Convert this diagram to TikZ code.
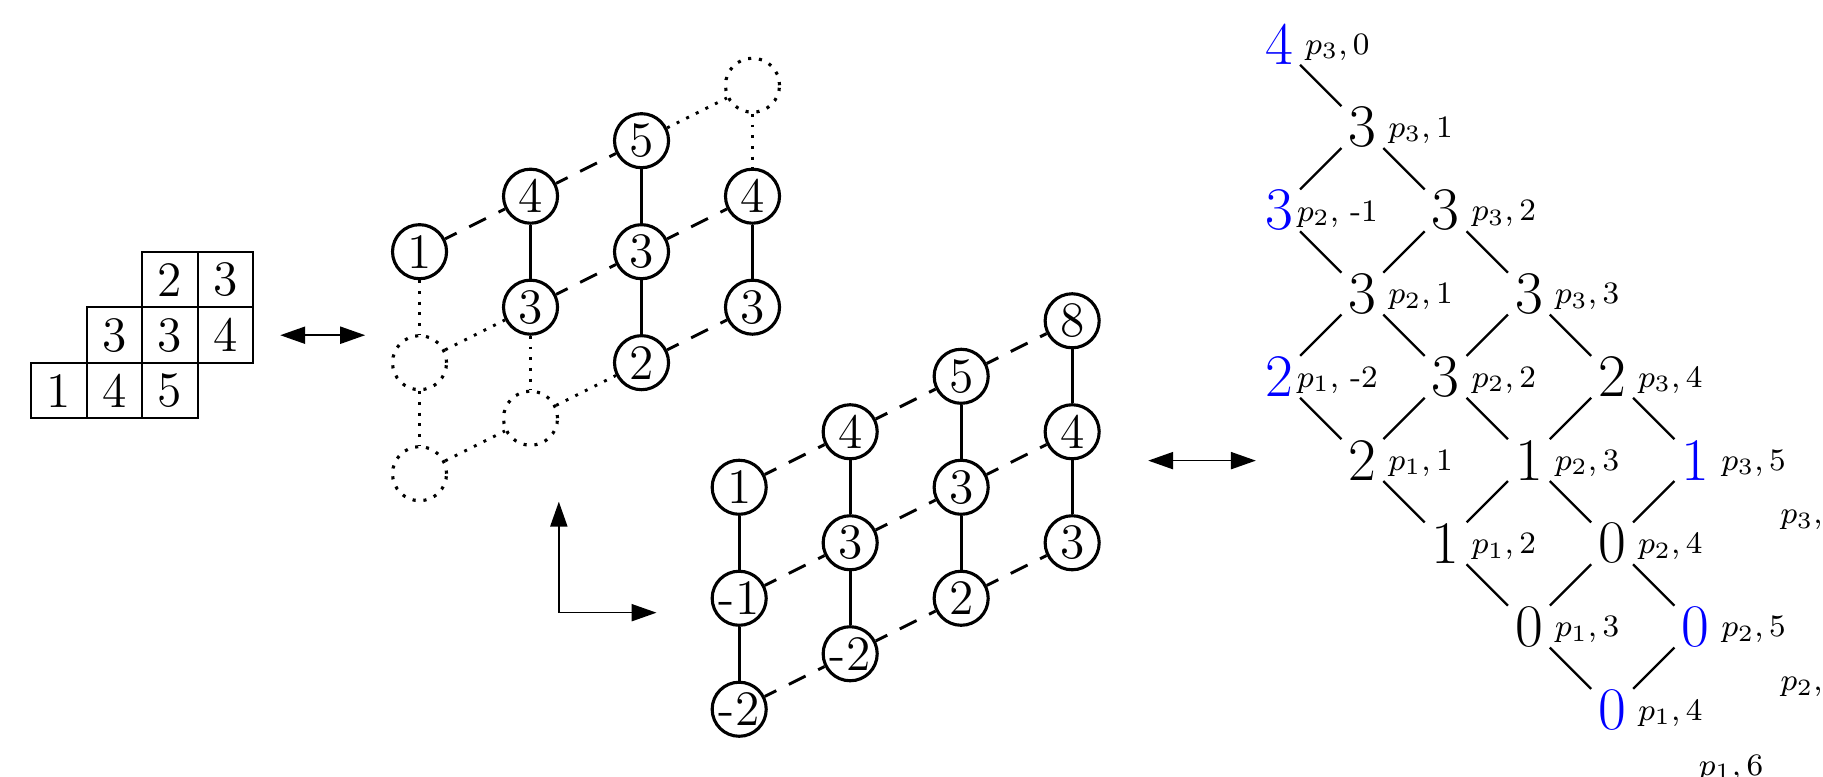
\documentclass[tikz,border=0pt]{standalone}
\usetikzlibrary{arrows.meta}
\begin{document}
\begin{tikzpicture}[x=0.5cm,y=-0.5cm,
  cell/.style={draw, line width=0.5pt, minimum size=0.5cm, inner sep=0pt, font=\fontsize{12.7}{15}\selectfont},
  lat/.style={circle, draw, line width=0.8pt, minimum size=0.487cm, inner sep=0pt, font=\fontsize{12.7}{15}\selectfont},
  latdot/.style={lat, dotted},
  sol/.style={line width=0.75pt},
  dsh/.style={line width=0.75pt, dash pattern=on 4.8pt off 3.6pt, dash phase=1.5pt},
  dtt/.style={line width=0.75pt, dotted},
  dig/.style={circle, minimum size=0.52cm, inner sep=0pt, font=\fontsize{15.5}{18}\selectfont},
  bdig/.style={dig, text=blue},
  lab/.style={inner sep=0pt, font=\fontsize{8}{9.6}\selectfont},
  dl/.style={line width=0.6pt},
  tipped/.style={line width=0.4pt, {Triangle[length=6.4pt,width=4.4pt]}-{Triangle[length=6.4pt,width=4.4pt]}}
]
\useasboundingbox (0,0) rectangle (32.85,14);
\clip (0,0) rectangle (32.85,14);

% tableau
\node[cell] (t02) at (3.06,5.04) {2};
\node[cell] (t03) at (4.06,5.04) {3};
\node[cell] (t11) at (2.06,6.04) {3};
\node[cell] (t12) at (3.06,6.04) {3};
\node[cell] (t13) at (4.06,6.04) {4};
\node[cell] (t20) at (1.06,7.04) {1};
\node[cell] (t21) at (2.06,7.04) {4};
\node[cell] (t22) at (3.06,7.04) {5};

\coordinate (a1l) at (5.05,6.04);
\coordinate (a1r) at (6.58,6.04);
\draw[tipped] (a1l) -- (a1r);

% upper lattice, origin (7.56,4.535)
\node[lat]    (u00) at (7.56,4.535) {1};
\node[lat]    (u10) at (9.56,3.535) {4};
\node[lat]    (u20) at (11.56,2.535) {5};
\node[latdot] (u30) at (13.56,1.535) {};
\node[latdot] (u01) at (7.56,6.535) {};
\node[lat]    (u11) at (9.56,5.535) {3};
\node[lat]    (u21) at (11.56,4.535) {3};
\node[lat]    (u31) at (13.56,3.535) {4};
\node[latdot] (u02) at (7.56,8.535) {};
\node[latdot] (u12) at (9.56,7.535) {};
\node[lat]    (u22) at (11.56,6.535) {2};
\node[lat]    (u32) at (13.56,5.535) {3};

\draw[dsh] (u00) -- (u10);
\draw[dsh] (u10) -- (u20);
\draw[dtt] (u20) -- (u30);
\draw[dtt] (u01) -- (u11);
\draw[dsh] (u11) -- (u21);
\draw[dsh] (u21) -- (u31);
\draw[dtt] (u02) -- (u12);
\draw[dtt] (u12) -- (u22);
\draw[dsh] (u22) -- (u32);
\draw[dtt] (u00) -- (u01);
\draw[dtt] (u01) -- (u02);
\draw[sol] (u10) -- (u11);
\draw[dtt] (u11) -- (u12);
\draw[sol] (u20) -- (u21);
\draw[sol] (u21) -- (u22);
\draw[dtt] (u30) -- (u31);
\draw[sol] (u31) -- (u32);

% axes
\coordinate (axU) at (10.07,9.04);
\coordinate (ax0) at (10.07,11.04);
\coordinate (axR) at (11.83,11.04);
\draw[tipped] (axU) -- (ax0) -- (axR);

% lower lattice, origin (13.32,8.78)
\node[lat] (l00) at (13.32,8.78) {1};
\node[lat] (l10) at (15.32,7.78) {4};
\node[lat] (l20) at (17.32,6.78) {5};
\node[lat] (l30) at (19.32,5.78) {8};
\node[lat] (l01) at (13.32,10.78) {-1};
\node[lat] (l11) at (15.32,9.78) {3};
\node[lat] (l21) at (17.32,8.78) {3};
\node[lat] (l31) at (19.32,7.78) {4};
\node[lat] (l02) at (13.32,12.78) {-2};
\node[lat] (l12) at (15.32,11.78) {-2};
\node[lat] (l22) at (17.32,10.78) {2};
\node[lat] (l32) at (19.32,9.78) {3};

\foreach \r in {0,1,2}{
  \draw[dsh] (l0\r) -- (l1\r);
  \draw[dsh] (l1\r) -- (l2\r);
  \draw[dsh] (l2\r) -- (l3\r);
}
\foreach \c in {0,1,2,3}{
  \draw[sol] (l\c0) -- (l\c1);
  \draw[sol] (l\c1) -- (l\c2);
}

\coordinate (a2l) at (20.69,8.3);
\coordinate (a2r) at (22.63,8.3);
\draw[tipped] (a2l) -- (a2r);

% diamond: D(c,r) at (23.05+1.5c, 0.79+1.5r)
\node[bdig] (d00) at (23.05,0.79) {4};
\node[dig]  (d11) at (24.55,2.29) {3};
\node[bdig] (d02) at (23.05,3.79) {3};
\node[dig]  (d22) at (26.05,3.79) {3};
\node[dig]  (d13) at (24.55,5.29) {3};
\node[dig]  (d33) at (27.55,5.29) {3};
\node[bdig] (d04) at (23.05,6.79) {2};
\node[dig]  (d24) at (26.05,6.79) {3};
\node[dig]  (d44) at (29.05,6.79) {2};
\node[dig]  (d15) at (24.55,8.29) {2};
\node[dig]  (d35) at (27.55,8.29) {1};
\node[bdig] (d55) at (30.55,8.29) {1};
\node[dig]  (d26) at (26.05,9.79) {1};
\node[dig]  (d46) at (29.05,9.79) {0};
\node[dig]  (d37) at (27.55,11.29) {0};
\node[bdig] (d57) at (30.55,11.29) {0};
\node[bdig] (d48) at (29.05,12.79) {0};

\node[lab] (p00) at (24.10,0.85) {$p_3, 0$};
\node[lab] (p11) at (25.60,2.35) {$p_3, 1$};
\node[lab] (p02) at (24.10,3.85) {$p_2$, -1};
\node[lab] (p22) at (27.10,3.85) {$p_3, 2$};
\node[lab] (p13) at (25.60,5.35) {$p_2, 1$};
\node[lab] (p33) at (28.60,5.35) {$p_3, 3$};
\node[lab] (p04) at (24.10,6.85) {$p_1$, -2};
\node[lab] (p24) at (27.10,6.85) {$p_2, 2$};
\node[lab] (p44) at (30.10,6.85) {$p_3, 4$};
\node[lab] (p15) at (25.60,8.35) {$p_1, 1$};
\node[lab] (p35) at (28.60,8.35) {$p_2, 3$};
\node[lab] (p55) at (31.60,8.35) {$p_3, 5$};
\node[lab] (p26) at (27.10,9.85) {$p_1, 2$};
\node[lab] (p46) at (30.10,9.85) {$p_2, 4$};
\node[lab] (p37) at (28.60,11.35) {$p_1, 3$};
\node[lab] (p57) at (31.60,11.35) {$p_2, 5$};
\node[lab] (p48) at (30.10,12.85) {$p_1, 4$};
\node[lab, anchor=west] (q1) at (32.07,9.37) {$p_3,$};
\node[lab, anchor=west] (q2) at (32.07,12.38) {$p_2,$};
\node[lab, anchor=west] (q3) at (30.60,13.84) {$p_1, 6$};

\draw[dl] (d00) -- (d11);
\draw[dl] (d11) -- (d02);
\draw[dl] (d11) -- (d22);
\draw[dl] (d02) -- (d13);
\draw[dl] (d22) -- (d13);
\draw[dl] (d22) -- (d33);
\draw[dl] (d13) -- (d04);
\draw[dl] (d13) -- (d24);
\draw[dl] (d33) -- (d24);
\draw[dl] (d33) -- (d44);
\draw[dl] (d04) -- (d15);
\draw[dl] (d24) -- (d15);
\draw[dl] (d24) -- (d35);
\draw[dl] (d44) -- (d35);
\draw[dl] (d44) -- (d55);
\draw[dl] (d15) -- (d26);
\draw[dl] (d35) -- (d26);
\draw[dl] (d35) -- (d46);
\draw[dl] (d55) -- (d46);
\draw[dl] (d26) -- (d37);
\draw[dl] (d46) -- (d37);
\draw[dl] (d46) -- (d57);
\draw[dl] (d37) -- (d48);
\draw[dl] (d57) -- (d48);
\end{tikzpicture}
\end{document}
